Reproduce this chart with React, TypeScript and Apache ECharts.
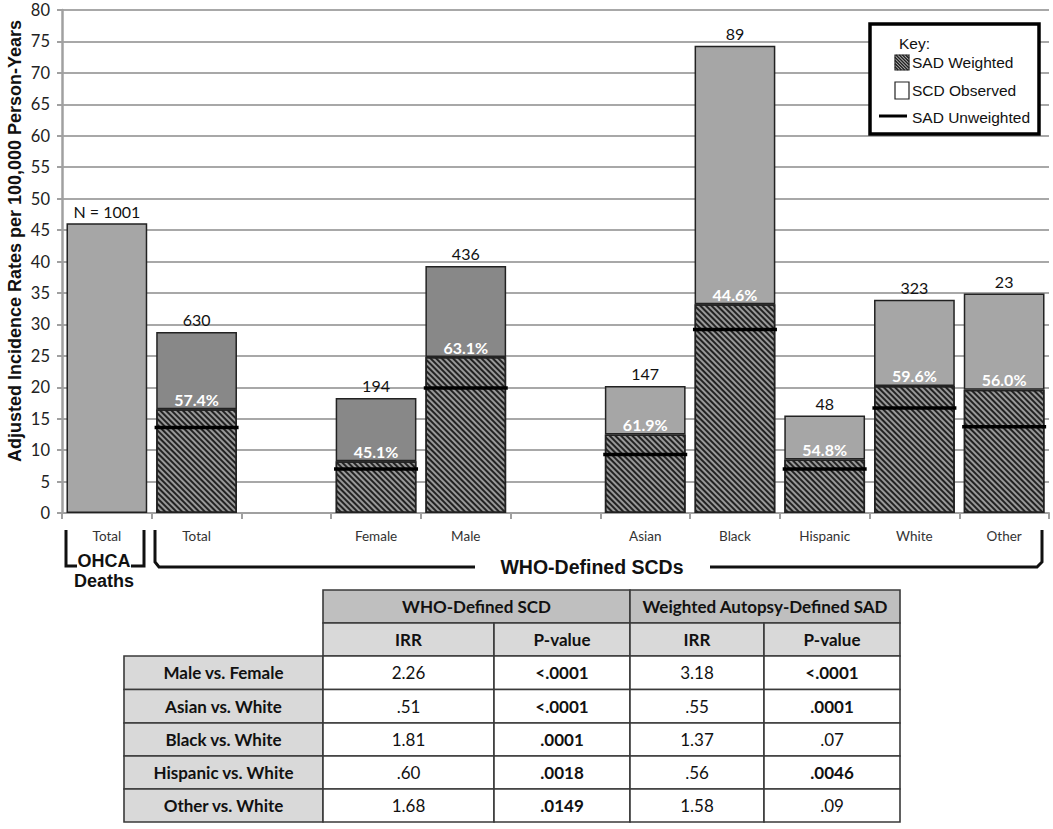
import React, { useEffect, useRef } from "react";
import * as echarts from "echarts";

// ---------- Chart data ----------
const categories = ["Total", "Total", "", "Female", "Male", "", "Asian", "Black", "Hispanic", "White", "Other"];
const groups = ["ohca", "who", "gap", "sex", "sex", "gap", "race", "race", "race", "race", "race"];
const totalRate = [46.1, 28.8, null, 18.3, 39.3, null, 20.2, 74.3, 15.5, 33.9, 34.9];
const sadWeighted = [null, 16.5, null, 8.25, 24.8, null, 12.5, 33.2, 8.5, 20.2, 19.6];
const sadUnweighted = [null, 13.6, null, 7.0, 19.9, null, 9.3, 29.2, 7.0, 16.7, 13.7];
const countLabels = ["N = 1001", "630", "", "194", "436", "", "147", "89", "48", "323", "23"];
const pctLabels = ["", "57.4%", "", "45.1%", "63.1%", "", "61.9%", "44.6%", "54.8%", "59.6%", "56.0%"];
const yTicks = { min: 0, max: 80, interval: 5 };

// ---------- Table data ----------
const tableGroups = ["WHO-Defined SCD", "Weighted Autopsy-Defined SAD"];
const tableSubHeaders = ["IRR", "P-value", "IRR", "P-value"];
const comparisons = ["Male vs. Female", "Asian vs. White", "Black vs. White", "Hispanic vs. White", "Other vs. White"];
const whoIrr = ["2.26", ".51", "1.81", ".60", "1.68"];
const whoP = ["<.0001", "<.0001", ".0001", ".0018", ".0149"];
const sadIrr = ["3.18", ".55", "1.37", ".56", "1.58"];
const sadP = ["<.0001", ".0001", ".07", ".0046", ".09"];

const FONT = "Lato, 'Open Sans', sans-serif";
const ARIAL = "'Liberation Sans', Arial, sans-serif";

function obsColor(g: string) {
  return g === "who" || g === "sex" ? "#888888" : "#a6a6a6";
}

function hatchLines(x0: number, y0: number, w: number, h: number, step: number) {
  const els: any[] = [];
  for (let c = -h; c < w; c += step) {
    const sx = Math.max(c, 0);
    const sy = sx - c;
    const ey = Math.min(h, w - c);
    const ex = ey + c;
    if (ey > sy)
      els.push({
        type: "line",
        shape: { x1: x0 + sx, y1: y0 + sy, x2: x0 + ex, y2: y0 + ey },
        style: { stroke: "#222", lineWidth: 1.5 },
      });
  }
  return els;
}

function buildTable() {
  const els: any[] = [];
  const colX = [124, 323, 494, 630, 764, 900];
  const rowY = [590, 623, 656, 689.5, 723, 756, 789, 822];
  const stroke = "#3a3a3a";
  const cell = (x1: number, y1: number, x2: number, y2: number, fill: string) => ({
    type: "rect",
    shape: { x: x1, y: y1, width: x2 - x1, height: y2 - y1 },
    style: { fill, stroke, lineWidth: 1.6 },
  });
  const txt = (x: number, y: number, t: string, bold: boolean) => ({
    type: "text",
    x,
    y,
    style: {
      text: t,
      fill: "#111",
      font: `${bold ? "bold " : ""}17px ${FONT}`,
      align: "center",
      verticalAlign: "middle",
    },
  });
  for (let g = 0; g < 2; g++) {
    const x1 = colX[1 + g * 2];
    const x2 = colX[3 + g * 2];
    els.push(cell(x1, rowY[0], x2, rowY[1], "#bfbfbf"));
    els.push(txt((x1 + x2) / 2, (rowY[0] + rowY[1]) / 2, tableGroups[g], true));
  }
  for (let c = 0; c < 4; c++) {
    const x1 = colX[1 + c];
    const x2 = colX[2 + c];
    els.push(cell(x1, rowY[1], x2, rowY[2], "#d9d9d9"));
    els.push(txt((x1 + x2) / 2, (rowY[1] + rowY[2]) / 2, tableSubHeaders[c], true));
  }
  const cols = [whoIrr, whoP, sadIrr, sadP];
  const isSig = (s: string) => parseFloat(s.replace("<", "0")) < 0.05;
  for (let r = 0; r < comparisons.length; r++) {
    const y1 = rowY[2 + r];
    const y2 = rowY[3 + r];
    const cy = (y1 + y2) / 2;
    els.push(cell(colX[0], y1, colX[1], y2, "#d9d9d9"));
    els.push(txt((colX[0] + colX[1]) / 2, cy, comparisons[r], true));
    for (let c = 0; c < 4; c++) {
      const x1 = colX[1 + c];
      const x2 = colX[2 + c];
      els.push(cell(x1, y1, x2, y2, "#ffffff"));
      const v = cols[c][r];
      els.push(txt((x1 + x2) / 2, cy, v, c % 2 === 1 && isSig(v)));
    }
  }
  return els;
}

function buildGraphics() {
  const els: any[] = [];
  const br = { stroke: "#111", lineWidth: 3, fill: "none" };
  els.push({
    type: "text",
    x: 15,
    y: 241,
    rotation: Math.PI / 2,
    style: {
      text: "Adjusted Incidence Rates per 100,000 Person-Years",
      font: `bold 18px ${ARIAL}`,
      fill: "#111",
      align: "center",
      verticalAlign: "middle",
    },
  });
  els.push({ type: "polyline", shape: { points: [[66, 530], [66, 566], [77, 566]] }, style: br });
  els.push({ type: "polyline", shape: { points: [[131, 566], [144, 566], [144, 530]] }, style: br });
  els.push({
    type: "text",
    x: 104,
    y: 561,
    style: { text: "OHCA", font: `bold 18px ${ARIAL}`, fill: "#111", align: "center", verticalAlign: "middle" },
  });
  els.push({
    type: "text",
    x: 104,
    y: 581,
    style: { text: "Deaths", font: `bold 18px ${ARIAL}`, fill: "#111", align: "center", verticalAlign: "middle" },
  });
  els.push({ type: "polyline", shape: { points: [[155, 530], [155, 562], [159, 567], [475, 567]] }, style: br });
  els.push({ type: "polyline", shape: { points: [[710, 567], [1037, 567], [1042, 562], [1042, 530]] }, style: br });
  els.push({
    type: "text",
    x: 592,
    y: 567,
    style: {
      text: "WHO-Defined SCDs",
      font: `bold 19.5px ${ARIAL}`,
      fill: "#111",
      align: "center",
      verticalAlign: "middle",
    },
  });
  els.push({
    type: "rect",
    shape: { x: 870, y: 24, width: 169, height: 110 },
    style: { fill: "#fff", stroke: "#000", lineWidth: 3.5 },
    z: 100,
  });
  const lt = (x: number, y: number, t: string) => ({
    type: "text",
    x,
    y,
    z: 101,
    style: { text: t, font: `15.5px ${ARIAL}`, fill: "#111", align: "left", verticalAlign: "middle" },
  });
  els.push(lt(899, 43, "Key:"));
  els.push({
    type: "rect",
    shape: { x: 895, y: 55, width: 14, height: 15 },
    style: { fill: "#c8c8c8", stroke: "#222", lineWidth: 1.2 },
    z: 101,
  });
  hatchLines(895, 55, 14, 15, 3.2).forEach((l) => els.push({ ...l, z: 102 }));
  els.push(lt(912, 62, "SAD Weighted"));
  els.push({
    type: "rect",
    shape: { x: 895, y: 82, width: 14, height: 17 },
    style: { fill: "#fff", stroke: "#222", lineWidth: 1.2 },
    z: 101,
  });
  els.push(lt(912, 90, "SCD Observed"));
  els.push({
    type: "line",
    shape: { x1: 879, y1: 116, x2: 907, y2: 116 },
    style: { stroke: "#000", lineWidth: 3 },
    z: 101,
  });
  els.push(lt(912, 117, "SAD Unweighted"));
  return els.concat(buildTable());
}

export default function App() {
  const ref = useRef<HTMLDivElement>(null);
  useEffect(() => {
    document.body.style.margin = "0";
    if (!ref.current) return;
    const chart = echarts.init(ref.current, null, { renderer: "svg" });

    const weightedData = sadWeighted.map((v, i) => ({
      value: v,
      label: { formatter: pctLabels[i] },
    }));
    const observedData = totalRate.map((t, i) => ({
      value: t == null ? null : +(t - (sadWeighted[i] ?? 0)).toFixed(2),
      itemStyle: { color: obsColor(groups[i]) },
      label: { formatter: countLabels[i] },
    }));

    const option: any = {
      animation: false,
      backgroundColor: "#ffffff",
      grid: { left: 62, right: 4, top: 10, bottom: 316, containLabel: false },
      xAxis: {
        type: "category",
        data: categories,
        axisLine: { lineStyle: { color: "#a0a0a0", width: 2 } },
        axisTick: { show: true, length: 6, lineStyle: { color: "#a0a0a0", width: 2 } },
        axisLabel: { color: "#333", fontFamily: FONT, fontSize: 13.5, margin: 16, interval: 0 },
      },
      yAxis: {
        type: "value",
        min: yTicks.min,
        max: yTicks.max,
        interval: yTicks.interval,
        axisLine: { show: true, lineStyle: { color: "#a0a0a0", width: 2.5 } },
        axisTick: { show: true, length: 5, lineStyle: { color: "#a0a0a0", width: 2 } },
        splitLine: { lineStyle: { color: "#a8a8a8", width: 2 } },
        axisLabel: { color: "#222", fontFamily: FONT, fontSize: 16.5, margin: 12 },
      },
      series: [
        {
          name: "SAD Weighted",
          type: "bar",
          stack: "rate",
          barCategoryGap: "10%",
          data: weightedData,
          itemStyle: {
            color: "#999999",
            borderColor: "#222",
            borderWidth: 1.5,
            decal: {
              symbol: "rect",
              symbolSize: 1,
              color: "#222222",
              dashArrayX: [1, 0],
              dashArrayY: [2, 2],
              rotation: Math.PI / 4,
            },
          },
          label: {
            show: true,
            position: "top",
            distance: 2,
            color: "#fff",
            fontFamily: FONT,
            fontWeight: "bold",
            fontSize: 16,
          },
        },
        {
          name: "SCD Observed",
          type: "bar",
          stack: "rate",
          barCategoryGap: "10%",
          data: observedData,
          itemStyle: { borderColor: "#222", borderWidth: 1.5 },
          label: {
            show: true,
            position: "top",
            distance: 4,
            color: "#111",
            fontFamily: FONT,
            fontSize: 16,
          },
        },
        {
          name: "SAD Unweighted",
          type: "scatter",
          data: sadUnweighted,
          symbol: "rect",
          symbolSize: [84, 3.5],
          itemStyle: { color: "#000", opacity: 1 },
          z: 10,
        },
      ],
      graphic: buildGraphics(),
    };
    chart.setOption(option);
    return () => chart.dispose();
  }, []);
  return <div ref={ref} style={{ width: 1053, height: 829, background: "#fff" }} />;
}
